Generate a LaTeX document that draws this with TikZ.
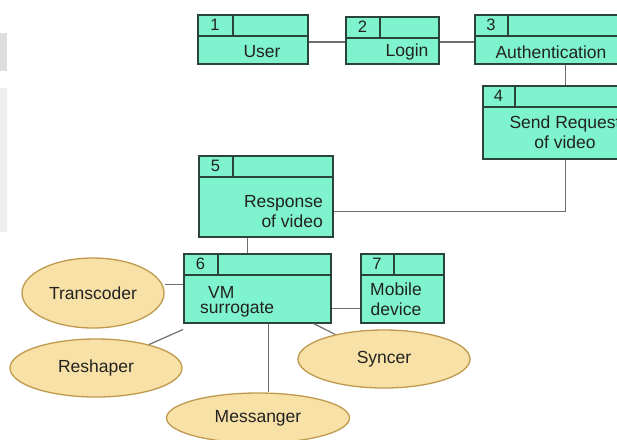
\documentclass[tikz,border=0pt]{standalone}
\usepackage{fontspec}
\setmainfont{Liberation Sans}
\usetikzlibrary{shapes.geometric,calc}

\definecolor{boxfill}{HTML}{7EF3CE}
\definecolor{boxedge}{HTML}{2A443C}
\definecolor{ovalfill}{HTML}{F8E1A6}
\definecolor{ovaledge}{HTML}{BF9A4E}
\definecolor{wire}{HTML}{6E6E6E}
\definecolor{ink}{HTML}{222222}
\definecolor{edgegray}{HTML}{DDDDDD}

\tikzset{
  boxbody/.style={draw=boxedge, line width=1.5pt, fill=boxfill, rectangle, inner sep=0pt},
  boxline/.style={draw=boxedge, line width=1.3pt},
  numtext/.style={font=\fontsize{16.5}{16}\selectfont, text=ink, inner sep=0pt},
  label/.style={font=\fontsize{17.5}{20}\selectfont, text=ink, inner sep=0pt, align=center},
  oval/.style={ellipse, draw=ovaledge, line width=1.3pt, fill=ovalfill, inner sep=0pt,
    font=\fontsize{17.5}{20}\selectfont, text=ink},
  conn/.style={draw=wire, line width=1.2pt},
}

% numbered process box: name, x, y, width, height, number-cell width, number
\newcommand{\stepbox}[7]{%
  \node[boxbody, minimum width=#4pt, minimum height=#5pt, anchor=north west] (#1) at (#2,#3) {};
  \draw[boxline] ([yshift=-22pt]#1.north west) -- ([yshift=-22pt]#1.north east);
  \draw[boxline] ([xshift=#6pt]#1.north west) -- ([xshift=#6pt,yshift=-22pt]#1.north west);
  \node[numtext] (#1num) at ([xshift=#6pt/2,yshift=-11pt]#1.north west) {#7};
}

\begin{document}
\begin{tikzpicture}[x=1pt,y=-1pt]
\clip (0,0) rectangle (617,439);
\fill[white] (0,0) rectangle (617,439);

% faint grey strips along the left edge
\fill[edgegray] (0,33) rectangle (7,71);
\fill[edgegray!50] (0,88) rectangle (7,232);

% process boxes
\stepbox{b1}{197}{14}{110}{49}{36}{1}
\stepbox{b2}{345}{16}{93}{47}{35}{2}
\stepbox{b3}{474}{14}{170}{49}{34}{3}
\stepbox{b4}{482}{85}{166}{73}{33}{4}
\stepbox{b5}{198}{155}{134}{81}{35}{5}
\stepbox{b6}{183}{253}{147}{69}{35}{6}
\stepbox{b7}{360}{253}{83}{69}{34}{7}

% box captions
\node[label] (t1) at (262,52) {User};
\node[label] (t2) at (407,52) {Login};
\node[label] (t3) at (551,52) {Authentication};
\node[label] (t4) at (565,132) {Send Request\\of video};
\node[label, align=right, anchor=east] (t5) at (323,212) {Response\\of video};
\node[label, anchor=west] (t6a) at (208,292) {VM};
\node[label, anchor=west] (t6b) at (200,310) {surrogate};
\node[label] (t7) at (396,299) {Mobile\\device};

% software components
\node[oval, minimum width=142pt, minimum height=70pt] (tr) at (93,293) {Transcoder};
\node[oval, minimum width=172pt, minimum height=58pt] (rs) at (96,368) {Reshaper};
\node[oval, minimum width=183pt, minimum height=50pt] (ms) at (258,418) {Messanger};
\node[oval, minimum width=172pt, minimum height=58pt] (sy) at (384,359) {Syncer};

% flow between the boxes
\draw[conn] (b1.east |- {(0,42)}) -- (b2.west |- {(0,42)});
\draw[conn] (b2.east |- {(0,42)}) -- (b3.west |- {(0,42)});
\draw[conn] (b3.south -| b4.north) -- (b4.north);
\draw[conn] (b4.south) |- ([yshift=-15pt]b5.east);
\draw[conn] ([xshift=-18pt]b5.south) coordinate (p5) -- (p5 |- b6.north);
\draw[conn] ([yshift=-20pt]b6.east) -- ([yshift=-20pt]b7.west);

% links from the surrogate to its components
\draw[conn] ([yshift=4pt]b6.west) -- ([yshift=4pt]b6.west -| tr.east);
\draw[conn] (rs) -- ([yshift=-6pt]b6.south west);
\draw[conn] ([xshift=11pt]b6.south) -- ([xshift=11pt]b6.south |- ms.north);
\draw[conn] ([xshift=-18pt]b6.south east) -- (sy);
\end{tikzpicture}
\end{document}
